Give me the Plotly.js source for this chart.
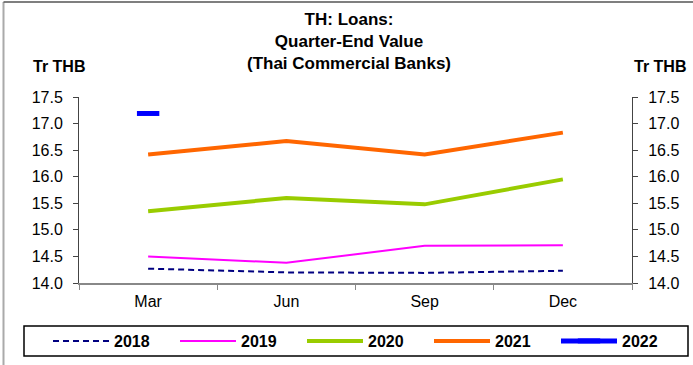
<!DOCTYPE html>
<html>
<head>
<meta charset="utf-8">
<script src="https://cdn.plot.ly/plotly-3.0.1.min.js"></script>
<style>
html,body{margin:0;padding:0;background:#fff;}
#chart{width:693px;height:365px;}
</style>
</head>
<body>
<div id="chart"></div>
<script>
const quarters = ['Mar', 'Jun', 'Sep', 'Dec'];
const loans2018 = [14.27, 14.20, 14.19, 14.23];
const loans2019 = [14.50, 14.38, 14.70, 14.71];
const loans2020 = [15.35, 15.60, 15.48, 15.95];
const loans2021 = [16.42, 16.67, 16.42, 16.83];
const loans2022 = [17.19];
const seriesNames = ['2018', '2019', '2020', '2021', '2022'];

const FONT = 'Liberation Sans, Arial, sans-serif';

const traces = [
  {x: quarters, y: loans2018, name: seriesNames[0], type: 'scatter', mode: 'lines',
   line: {color: '#000080', width: 2, dash: '6px,4px'}},
  {x: quarters, y: loans2019, name: seriesNames[1], type: 'scatter', mode: 'lines',
   line: {color: '#FF00FF', width: 2}},
  {x: quarters, y: loans2020, name: seriesNames[2], type: 'scatter', mode: 'lines',
   line: {color: '#99CC00', width: 4}},
  {x: quarters, y: loans2021, name: seriesNames[3], type: 'scatter', mode: 'lines',
   line: {color: '#FF6600', width: 4}},
  {x: quarters.slice(0, loans2022.length), y: loans2022, name: seriesNames[4], type: 'scatter', mode: 'lines+markers',
   yaxis: 'y2',
   line: {color: '#0000FF', width: 5},
   marker: {symbol: 'line-ew', size: 16, color: '#0000FF', line: {color: '#0000FF', width: 5}}}
];

const yAxisCommon = {
  range: [14, 17.5], dtick: 0.5, tick0: 14, tickformat: '.1f', autorange: false,
  showgrid: false, zeroline: false, showline: true, linecolor: '#444', linewidth: 1,
  ticks: 'outside', ticklen: 5, tickcolor: '#444', ticklabelstandoff: 7,
  tickfont: {family: FONT, size: 16, color: '#000'}, fixedrange: true
};

const L = 79, T = 97, W = 553, H = 186;
const px = v => (v - L) / W;
const py = v => (T + H - v) / H;

const layout = {
  width: 693, height: 365,
  margin: {l: L, r: 693 - L - W, t: T, b: 365 - T - H, autoexpand: false},
  paper_bgcolor: '#fff', plot_bgcolor: '#fff',
  font: {family: FONT, color: '#000'},
  title: {
    text: '<b>TH: Loans:</b><br><b>Quarter-End Value</b><br><b>(Thai Commercial Banks)</b>',
    font: {family: FONT, size: 17, color: '#000'},
    xref: 'container', x: 349 / 693, xanchor: 'center',
    yref: 'container', y: 1 - 25 / 365, yanchor: 'top'
  },
  xaxis: {
    type: 'category', range: [-0.5, 3.5], showgrid: false, zeroline: false,
    showline: true, linecolor: '#888', linewidth: 2,
    ticks: 'outside', tickson: 'boundaries', ticklen: 5, tickcolor: '#888',
    ticklabelstandoff: 3,
    tickfont: {family: FONT, size: 16, color: '#000'}, fixedrange: true
  },
  yaxis: Object.assign({}, yAxisCommon, {side: 'left'}),
  yaxis2: Object.assign({}, yAxisCommon, {side: 'right', overlaying: 'y', anchor: 'x'}),
  showlegend: true,
  legend: {
    orientation: 'h', x: px(48), xanchor: 'left', y: py(341), yanchor: 'middle',
    bgcolor: 'rgba(0,0,0,0)', borderwidth: 0,
    itemwidth: 56, entrywidth: 56, entrywidthmode: 'pixels',
    font: {family: FONT, size: 16, color: '#000', weight: 'bold'},
    itemclick: false, itemdoubleclick: false
  },
  shapes: [
    {type: 'rect', xref: 'paper', yref: 'paper', x0: px(24), x1: px(688), y0: py(356), y1: py(326),
     line: {color: '#000', width: 1.5}, fillcolor: 'rgba(0,0,0,0)'},
    {type: 'line', xref: 'paper', yref: 'paper', x0: px(3.5), x1: px(3.5), y0: py(365), y1: py(2),
     line: {color: '#aaa', width: 2}},
    {type: 'line', xref: 'paper', yref: 'paper', x0: px(3.5), x1: px(693), y0: py(2), y1: py(2),
     line: {color: '#555', width: 1.5}}
  ],
  annotations: [
    {text: '<b>Tr THB</b>', xref: 'paper', yref: 'paper', x: px(59), y: py(67), showarrow: false,
     xanchor: 'center', yanchor: 'middle', font: {family: FONT, size: 16, color: '#000'}},
    {text: '<b>Tr THB</b>', xref: 'paper', yref: 'paper', x: px(660), y: py(67), showarrow: false,
     xanchor: 'center', yanchor: 'middle', font: {family: FONT, size: 16, color: '#000'}}
  ]
};

Plotly.newPlot('chart', traces, layout, {displayModeBar: false, staticPlot: true});
</script>
</body>
</html>
